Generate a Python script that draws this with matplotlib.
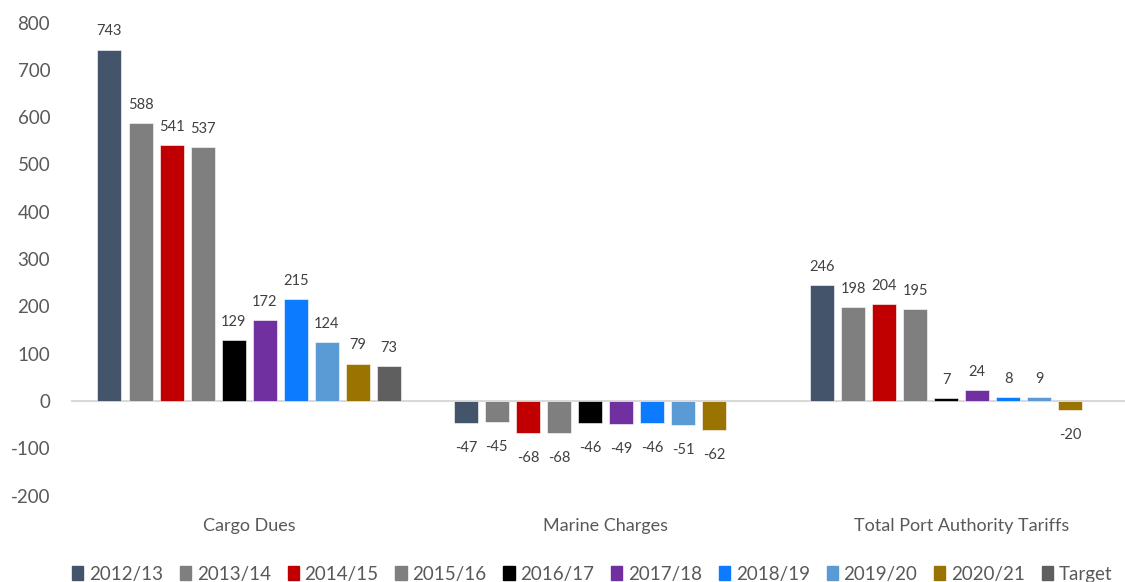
import numpy as np
import matplotlib
matplotlib.use("Agg")
import matplotlib.pyplot as plt

# tariff changes per category, one list per financial year
categories = ["Cargo Dues", "Marine Charges", "Total Port Authority Tariffs"]
series_names = ["2012/13", "2013/14", "2014/15", "2015/16", "2016/17",
                "2017/18", "2018/19", "2019/20", "2020/21", "Target"]
values = {
    "2012/13": [743, -47, 246],
    "2013/14": [588, -45, 198],
    "2014/15": [541, -68, 204],
    "2015/16": [537, -68, 195],
    "2016/17": [129, -46, 7],
    "2017/18": [172, -49, 24],
    "2018/19": [215, -46, 8],
    "2019/20": [124, -51, 9],
    "2020/21": [79, -62, -20],
    "Target": [73, None, None],
}
colors = ["#44546A", "#7F7F7F", "#C00000", "#7F7F7F", "#000000",
          "#7030A0", "#0C7BFF", "#5B9BD5", "#9A7300", "#5F5F5F"]
yticks = [-200, -100, 0, 100, 200, 300, 400, 500, 600, 700, 800]

plt.rcParams['font.family'] = ['Lato', 'DejaVu Sans']

fig = plt.figure(figsize=(11.25, 5.82), dpi=100)
ax = fig.add_axes([0.0631, 0.1485, 0.9502, 0.8127])

n = len(series_names)
slot = 0.0871
width = 0.0674
x = np.arange(len(categories))

for j, name in enumerate(series_names):
    offs = (j - (n - 1) / 2) * slot
    for i, v in enumerate(values[name]):
        if v is None:
            continue
        ax.bar(x[i] + offs, v, width=width, color=colors[j],
               edgecolor="white", linewidth=0.4, zorder=3)
        ax.annotate(str(v), xy=(x[i] + offs, v),
                    xytext=(0, 8 if v >= 0 else -13), textcoords="offset points",
                    ha="center", va="bottom" if v >= 0 else "top",
                    fontsize=10.5, color="#404040")

ax.set_xlim(-0.5, 2.5)
ax.set_ylim(-200, 800)
ax.set_yticks(yticks)
ax.set_yticklabels([str(t) for t in yticks])
ax.set_xticks(x)
ax.set_xticklabels(categories)
ax.tick_params(axis="y", length=0, pad=15, labelsize=13.5, labelcolor="#595959")
ax.tick_params(axis="x", length=0, pad=16, labelsize=13, labelcolor="#595959")
for s in ax.spines.values():
    s.set_visible(False)
ax.axhline(0, color="#D9D9D9", linewidth=1.5, zorder=2)

handles = [plt.Rectangle((0, 0), 1, 1, color=c) for c in colors]
fig.legend(handles, series_names, loc="lower left", bbox_to_anchor=(0.049, -0.03),
           ncol=n, frameon=False, fontsize=13.5, handlelength=0.6, handleheight=0.7,
           handletextpad=0.3, columnspacing=0.9, labelcolor="#595959")

fig.savefig("out.png", dpi=100)
